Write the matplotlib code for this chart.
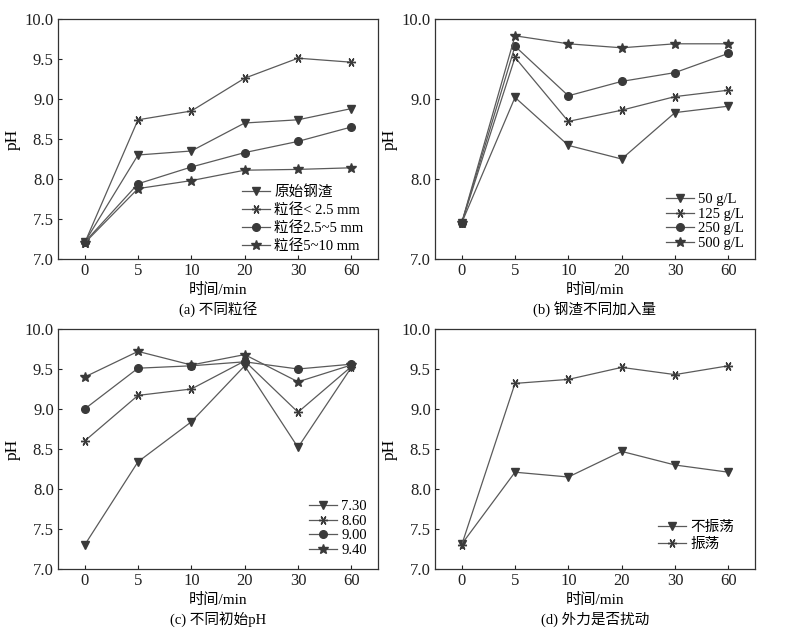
import matplotlib
matplotlib.use("Agg")
import matplotlib.pyplot as plt

plt.rcParams['font.family'] = ['Liberation Serif', 'Noto Sans CJK SC']
plt.rcParams['axes.unicode_minus'] = False

times = ['0', '5', '10', '20', '30', '60']

# (a) particle size
a_labels = ['原始钢渣', '粒径< 2.5 mm', '粒径2.5~5 mm', '粒径5~10 mm']
a_raw = [7.21, 8.30, 8.35, 8.70, 8.74, 8.88]
a_lt25 = [7.20, 8.74, 8.85, 9.26, 9.51, 9.46]
a_25_5 = [7.21, 7.94, 8.15, 8.33, 8.47, 8.65]
a_5_10 = [7.20, 7.88, 7.98, 8.11, 8.12, 8.14]

# (b) dosage
b_labels = ['50 g/L', '125 g/L', '250 g/L', '500 g/L']
b_50 = [7.45, 9.02, 8.42, 8.25, 8.83, 8.91]
b_125 = [7.45, 9.52, 8.72, 8.86, 9.03, 9.11]
b_250 = [7.45, 9.66, 9.04, 9.22, 9.33, 9.57]
b_500 = [7.45, 9.79, 9.69, 9.64, 9.69, 9.69]

# (c) initial pH
c_labels = ['7.30', '8.60', '9.00', '9.40']
c_730 = [7.30, 8.34, 8.84, 9.54, 8.52, 9.52]
c_860 = [8.60, 9.17, 9.25, 9.60, 8.96, 9.53]
c_900 = [9.00, 9.51, 9.54, 9.59, 9.50, 9.56]
c_940 = [9.40, 9.72, 9.55, 9.68, 9.34, 9.55]

# (d) shaking
d_labels = ['不振荡', '振荡']
d_still = [7.31, 8.21, 8.15, 8.47, 8.30, 8.21]
d_shake = [7.30, 9.32, 9.37, 9.52, 9.43, 9.54]

markers = ['v', (6, 2, 90), 'o', '*']
msizes = {'v': 5.5, 'o': 5.5, '*': 7.5}
line_c = '#5a5a5a'
mark_c = '#3a3a3a'

fig = plt.figure(figsize=(7.92, 6.33), dpi=100)

W = 320 / 792
H = 240 / 633
yt_fine = [7.0, 7.5, 8.0, 8.5, 9.0, 9.5, 10.0]
panels = [
    (58 / 792, 1 - 259 / 633, [a_raw, a_lt25, a_25_5, a_5_10], a_labels,
     '(a) 不同粒径', yt_fine, (0.955, 0.025), 0.3),
    (435 / 792, 1 - 259 / 633, [b_50, b_125, b_250, b_500], b_labels,
     '(b) 钢渣不同加入量', [7.0, 8.0, 9.0, 10.0], (0.966, 0.037), 0.1),
    (58 / 792, 1 - 569 / 633, [c_730, c_860, c_900, c_940], c_labels,
     '(c) 不同初始pH', yt_fine, (0.966, 0.05), 0.1),
    (435 / 792, 1 - 569 / 633, [d_still, d_shake], d_labels,
     '(d) 外力是否扰动', yt_fine, (0.934, 0.075), 0.25),
]

x = list(range(len(times)))
for left, bottom, series, labels, caption, yt, lpos, lsp in panels:
    ax = fig.add_axes([left, bottom, W, H])
    for i, (ys, lab) in enumerate(zip(series, labels)):
        m = markers[i]
        ms = msizes.get(m, 6.5)
        ax.plot(x, ys, color=line_c, lw=0.9, marker=m, markersize=ms,
                markerfacecolor=mark_c, markeredgecolor=mark_c,
                markeredgewidth=1.0, label=lab)
    ax.set_xlim(-0.5, 5.5)
    ax.set_ylim(7.0, 10.0)
    ax.set_xticks(x)
    ax.set_xticklabels(times)
    ax.set_yticks(yt)
    ax.set_yticklabels(['%.1f' % v for v in yt])
    ax.tick_params(direction='in', length=3, width=0.8, labelsize=12,
                   colors='#222222', pad=3)
    for s in ax.spines.values():
        s.set_color('#333333')
        s.set_linewidth(0.9)
    ax.set_xlabel('时间/min', fontsize=11, labelpad=3)
    ax.set_ylabel('pH', fontsize=12.5, labelpad=3)
    ax.text(0.5, -50 / 240, caption, transform=ax.transAxes, ha='center',
            va='center', fontsize=10.5)
    ax.legend(loc='lower right', bbox_to_anchor=lpos, frameon=False,
              fontsize=10.5, handlelength=1.9, handletextpad=0.3,
              labelspacing=lsp, borderpad=0, borderaxespad=0)

fig.savefig('out.png', dpi=100)
